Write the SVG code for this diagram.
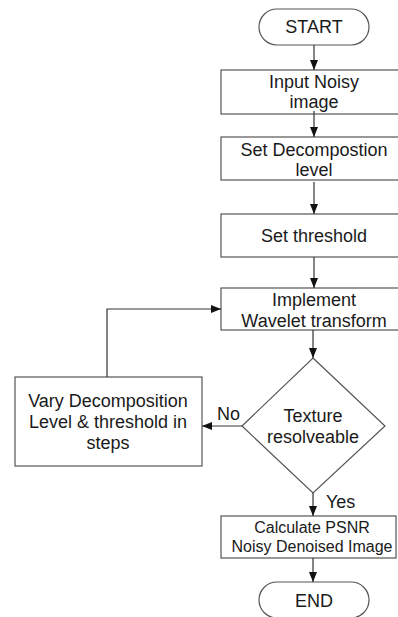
<svg xmlns="http://www.w3.org/2000/svg" width="398" height="617" viewBox="0 0 398 617">
<style>
.n{fill:#fff;stroke:#555;stroke-width:1.2}
.c{fill:none;stroke:#333;stroke-width:1.2}
text{font-family:"Liberation Sans",Arial,sans-serif;font-size:18px;fill:#1a1a1a;text-anchor:middle}
.s{font-size:16px}
.l{text-anchor:start}
</style>
<defs>
<marker id="a" viewBox="0 0 10 10" refX="10" refY="5" markerWidth="10" markerHeight="10" markerUnits="userSpaceOnUse" orient="auto">
<path d="M0,1 L10,5 L0,9 Z" fill="#111"/>
</marker>
</defs>
<rect width="398" height="617" fill="#fff"/>
<g id="start"><rect class="n" x="259" y="9" width="110" height="36" rx="18"/><text x="314" y="33">START</text></g>
<g id="input"><rect class="n" x="221" y="70" width="190" height="44"/><text x="314" y="88">Input Noisy</text><text x="314" y="108">image</text></g>
<g id="declevel"><rect class="n" x="221" y="137" width="190" height="43"/><text x="314" y="156">Set Decompostion</text><text x="314" y="176">level</text></g>
<g id="threshold"><rect class="n" x="221" y="214" width="190" height="43"/><text x="314" y="242">Set threshold</text></g>
<g id="wavelet"><rect class="n" x="221" y="288" width="190" height="42"/><text x="314" y="306">Implement</text><text x="314" y="327">Wavelet transform</text></g>
<g id="decision"><polygon class="n" points="313,358 385,426 313,493 242,426"/><text x="313" y="422">Texture</text><text x="313" y="443">resolveable</text></g>
<g id="vary"><rect class="n" x="15" y="377" width="187" height="89"/><text x="108" y="407">Vary Decomposition</text><text x="108" y="428">Level &amp; threshold in</text><text x="108" y="449">steps</text></g>
<g id="psnr"><rect class="n" x="221" y="516" width="175" height="42"/><text class="s" x="312" y="533">Calculate PSNR</text><text class="s" x="312" y="552">Noisy Denoised Image</text></g>
<g id="end"><rect class="n" x="259" y="582" width="110" height="36" rx="18"/><text x="314" y="607">END</text></g>
<g id="connectors">
<line class="c" x1="314" y1="45" x2="314" y2="70" marker-end="url(#a)"/>
<line class="c" x1="314" y1="111" x2="314" y2="137" marker-end="url(#a)"/>
<line class="c" x1="314" y1="182" x2="314" y2="214" marker-end="url(#a)"/>
<line class="c" x1="314" y1="257" x2="314" y2="288" marker-end="url(#a)"/>
<line class="c" x1="313" y1="330" x2="313" y2="358" marker-end="url(#a)"/>
<line class="c" x1="242" y1="426" x2="202" y2="426" marker-end="url(#a)"/>
<polyline class="c" points="107,377 107,309 221,309" marker-end="url(#a)"/>
<line class="c" x1="313" y1="493" x2="313" y2="516" marker-end="url(#a)"/>
<line class="c" x1="313" y1="558" x2="313" y2="582" marker-end="url(#a)"/>
<text class="l" x="217" y="420">No</text>
<text class="l" x="326" y="508">Yes</text>
</g>
</svg>
